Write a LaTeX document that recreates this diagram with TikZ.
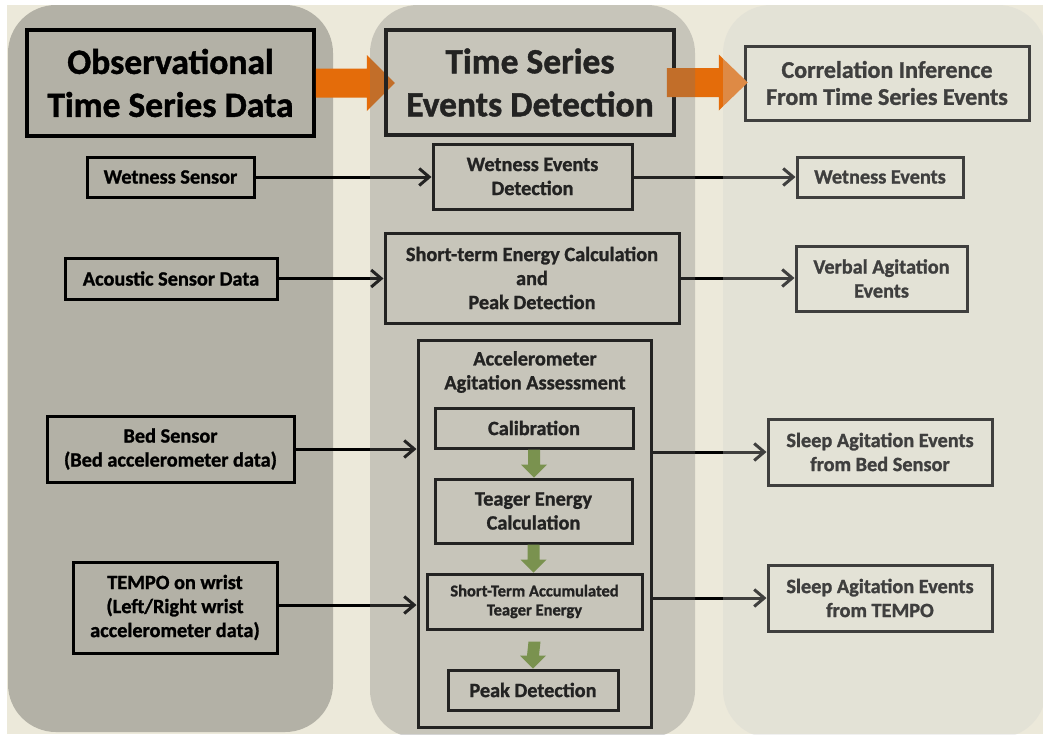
\documentclass[tikz,border=0pt]{standalone}
\usepackage{fontspec}
\setmainfont{Carlito}[BoldFeatures={FakeBold=1.2}]
\usetikzlibrary{arrows.meta,calc}
\definecolor{cream}{RGB}{236,233,218}
\definecolor{leftpanel}{RGB}{179,177,166}
\definecolor{midover}{RGB}{116,116,115}
\definecolor{rightover}{RGB}{209,210,208}
\definecolor{orangeA}{RGB}{228,108,10}
\definecolor{greenA}{RGB}{125,160,64}
\newcommand\garrow[2]{\fill[greenA] ($(#1)+(-6,0)$) -- ++(12,0) -- ($(#2)+(6,-13)$) -- ++(7,0) -- (#2) -- ++(-13,-13) -- ++(7,0) -- cycle;}
\begin{document}
\begin{tikzpicture}[x=1pt,y=-1pt,
  box/.style={draw=black, line width=3pt, inner sep=0pt, align=center,
    font=\bfseries\fontsize{20.3}{24}\selectfont},
  bigbox/.style={box, line width=3.5pt, font=\bfseries\fontsize{35.5}{43}\selectfont},
  medbox/.style={box, font=\bfseries\fontsize{24}{27}\selectfont},
  smallbox/.style={box, font=\bfseries\fontsize{16.5}{19}\selectfont},
  plain/.style={inner sep=0pt, align=center, font=\bfseries\fontsize{20.3}{24}\selectfont},
  conn/.style={draw=black, line width=3pt, -{Straight Barb[length=10pt,width=17pt]}}]
\useasboundingbox (0,0) rectangle (1043,734);
\clip (0,0) rectangle (1043,734);
\fill[white] (0,0) rectangle (1043,734);
\fill[cream] (7,5) rectangle (1043,734);
% left panel
\fill[leftpanel, rounded corners=48pt] (8,5) rectangle (333,732);

% header boxes
\node[bigbox, minimum width=287pt, minimum height=106pt] (h1) at (170.5,83) {Observational\\Time Series Data};
\node[medbox, minimum width=284pt, minimum height=74pt] (h3) at (887,83) {Correlation Inference\\From Time Series Events};

% orange arrows
\fill[orangeA] ($(h1.east)+(0,-14.5)$) -- ++(51,0) -- ++(0,-13.5) -- ($(h1.east)+(79,0)$)
  -- ($(h1.east)+(51,28)$) -- ++(0,-13.5) -- ($(h1.east)+(0,14.5)$) -- cycle;
\node[bigbox, minimum width=288pt, minimum height=105pt] (h2) at (530,82.5) {Time Series\\Events Detection};
\fill[orangeA] ($(h2.east)+(-9,-14.5)$) -- ++(52,0) -- ++(0,-13.5) -- ($(h2.east)+(72,0)$)
  -- ($(h2.east)+(43,28)$) -- ++(0,-13.5) -- ($(h2.east)+(-9,14.5)$) -- cycle;

% left column
\node[box, minimum width=167pt, minimum height=40pt] (ws) at (170.5,177) {Wetness Sensor};
\node[box, minimum width=212pt, minimum height=41pt] (ac) at (171,278.5) {Acoustic Sensor Data};
\node[box, minimum width=247pt, minimum height=66pt] (bed) at (170.5,449) {Bed Sensor\\(Bed accelerometer data)};
\node[box, minimum width=204pt, minimum height=91pt] (tempo) at (175,607.5) {TEMPO on wrist\\(Left/Right wrist\\accelerometer data)};

% middle column
\node[box, minimum width=199pt, minimum height=65pt] (wed) at (532.5,176.5) {Wetness Events\\Detection};
\node[box, minimum width=294pt, minimum height=90pt] (st) at (532,278) {Short-term Energy Calculation\\and\\Peak Detection};
\node[box, minimum width=233pt, minimum height=387pt] (acc) at (534.5,533.5) {};
\node[plain] (acct) at (535,372) {Accelerometer\\Agitation Assessment};
\node[box, minimum width=198pt, minimum height=40pt] (cal) at (534,428) {Calibration};
\node[box, minimum width=197pt, minimum height=64pt] (teg) at (533.5,511) {Teager Energy\\Calculation};
\node[smallbox, minimum width=215pt, minimum height=55pt] (sta) at (534.5,601.5) {Short-Term Accumulated\\Teager Energy};
\node[box, minimum width=170pt, minimum height=40pt] (pk) at (533,690) {Peak Detection};

\garrow{cal.south}{cal.south |- teg.north}
\garrow{teg.south}{teg.south |- sta.north}
\garrow{$(sta.south)+(0,11)$}{pk.north}

% right column
\node[box, minimum width=166pt, minimum height=40pt] (we) at (880,177) {Wetness Events};
\node[box, minimum width=171pt, minimum height=65pt] (va) at (881.5,278.5) {Verbal Agitation\\Events};
\node[box, minimum width=224pt, minimum height=66pt] (sb) at (880,452) {Sleep Agitation Events\\from Bed Sensor};
\node[box, minimum width=224pt, minimum height=66pt] (stp) at (880,598) {Sleep Agitation Events\\from TEMPO};

% connectors
\draw[conn] (ws.east) -- (ws.east -| wed.west);
\draw[conn] (ac.east) -- (ac.east -| st.west);
\draw[conn] (bed.east) -- (bed.east -| acc.west);
\draw[conn] ($(tempo.east)+(0,-2.5)$) -- ($(tempo.east -| acc.west)+(0,-2.5)$);
\draw[conn] (wed.east |- we.west) -- (we.west);
\draw[conn] (st.east) -- (st.east -| va.west);
\draw[conn] (acc.east |- sb.west) -- (sb.west);
\draw[conn] (acc.east |- stp.west) -- (stp.west);

% translucent panels on top
\fill[midover, fill opacity=0.3, rounded corners=48pt] (370,5) rectangle (695,738);
\fill[rightover, fill opacity=0.3, rounded corners=48pt] (723,5) rectangle (1046,738);
\end{tikzpicture}
\end{document}
